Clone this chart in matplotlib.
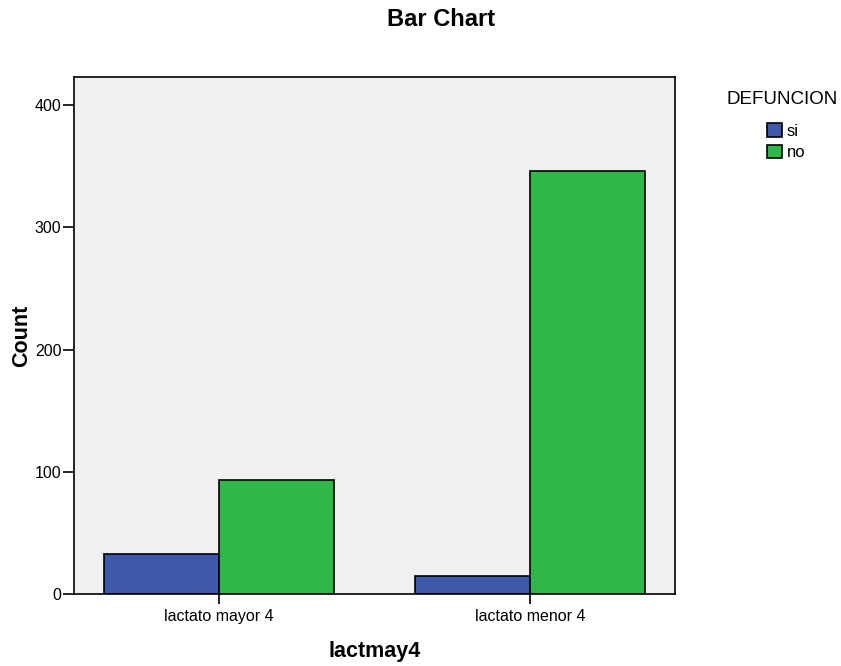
import numpy as np
import matplotlib
matplotlib.use("Agg")
import matplotlib.pyplot as plt
from matplotlib.patches import Patch

categories = ["lactato mayor 4", "lactato menor 4"]
series_names = ["si", "no"]
si_counts = [33, 15]
no_counts = [93, 346]
colors = ["#3E58AC", "#2EB84A"]

plt.rcParams["font.family"] = ["Liberation Sans", "DejaVu Sans"]

fig = plt.figure(figsize=(8.41, 6.66), dpi=100)
ax = fig.add_axes([0.088, 0.108, 0.7146, 0.7763])
ax.set_facecolor("#F0F0F0")

x = np.arange(len(categories))
w = 0.37
ax.bar(x - w / 2, si_counts, w, color=colors[0], edgecolor="black", linewidth=1.2)
ax.bar(x + w / 2, no_counts, w, color=colors[1], edgecolor="black", linewidth=1.2)

ax.set_xlim(-0.466, 1.466)
ax.set_ylim(0, 423)
ax.set_xticks(x)
ax.set_xticklabels(categories, fontsize=11.5)
ax.set_yticks([0, 100, 200, 300, 400])
ax.tick_params(axis="y", length=8, width=1.2, labelsize=11.5, pad=1)
ax.tick_params(axis="x", length=7, width=1.2, pad=4)
for s in ax.spines.values():
    s.set_linewidth(1.2)

ax.set_ylabel("Count", fontsize=15.5, fontweight="bold", labelpad=2)
ax.set_xlabel("lactmay4", fontsize=15.5, fontweight="bold", labelpad=12)
fig.suptitle("Bar Chart", fontsize=17, fontweight="bold", x=0.524, y=0.988)

# legend title and entries
fig.text(727 / 841, 1 - 100 / 666, "DEFUNCION", fontsize=13.5, va="center", ha="left")
handles = [Patch(facecolor=c, edgecolor="black", linewidth=1.2, label=n)
           for c, n in zip(colors, series_names)]
fig.legend(handles=handles, loc="upper left",
           bbox_to_anchor=(752 / 841, 1 - 108 / 666), frameon=False, fontsize=12,
           handlelength=0.9, handleheight=0.9,
           handletextpad=0.3, labelspacing=0.35)

fig.savefig("out.png", dpi=100)
